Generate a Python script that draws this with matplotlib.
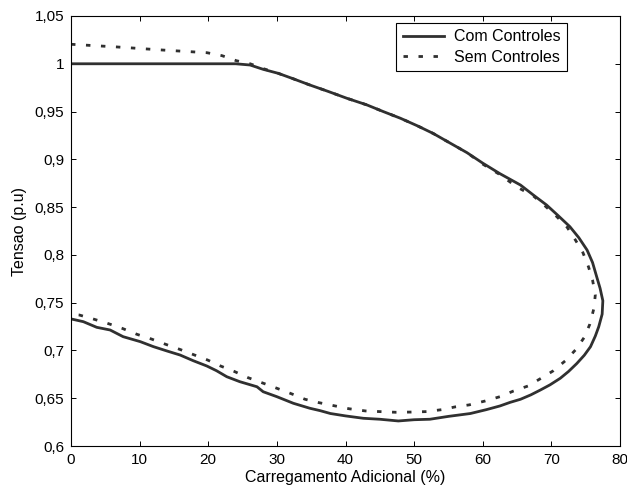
import matplotlib
matplotlib.use('Agg')
import matplotlib.pyplot as plt

plt.rcParams['font.family'] = ['Liberation Sans', 'DejaVu Sans']

# curva PV com controles (ramo superior -> nariz -> ramo inferior)
com_x = [0, 24, 26.1, 28, 30.2, 32.2, 34.8, 37.5, 40.2, 43.1, 45.5, 48, 50.5, 52.8,
         55, 57.7, 60, 62.5, 65.5, 67.4, 69.3, 71, 72.7, 74, 75.2, 76, 76.6, 77.1, 77.5,
         77.4, 76.9, 76.4, 75.7, 74.8, 73.7, 72.5, 71.3, 69.8, 68.4, 67, 65.5, 64, 62.5,
         60.5, 58.2, 55, 52.3, 50, 47.7, 45, 42.6, 40, 37.8, 36.3, 34.8, 32.4, 30, 28,
         27.1, 24.6, 22.7, 21.2, 19.8, 17.8, 15.9, 14, 12, 10.1, 7.6, 5.7, 3.75, 1.8, 0]
com_y = [1.0, 1.0, 0.9987, 0.9942, 0.990, 0.9848, 0.9778, 0.971, 0.9639, 0.957, 0.950,
         0.943, 0.935, 0.927, 0.918, 0.907, 0.896, 0.885, 0.8731, 0.8625, 0.8522, 0.841,
         0.8295, 0.818, 0.8051, 0.792, 0.7772, 0.765, 0.752,
         0.738, 0.7248, 0.715, 0.7039, 0.695, 0.6863, 0.678, 0.6709, 0.664, 0.6586,
         0.6535, 0.6489, 0.6457, 0.6419, 0.638, 0.634, 0.631, 0.628, 0.6275, 0.6262,
         0.628, 0.629, 0.6315, 0.634, 0.637, 0.6395, 0.6447, 0.6516, 0.6568, 0.662,
         0.6673, 0.6725, 0.6788, 0.6837, 0.6893, 0.6952, 0.6994, 0.704, 0.7092, 0.7144,
         0.7214, 0.7242, 0.7301, 0.733]

# curva PV sem controles
sem_x = [0, 6.7, 13.3, 19.8, 22, 24.1, 26.1, 28.2, 30.2, 32.2, 34.8, 37.5, 40.2, 43.1,
         45.5, 48, 50.5, 52.8, 55, 57.7, 60, 62.5, 65, 67.4, 69.1, 70.7, 72.3, 73.5, 74.6,
         75.4, 76.0, 76.4, 76.2, 75.6, 74.8, 73.6, 72, 70.3, 68.5, 66.6, 64.5, 62.5, 60.3,
         58, 56.1, 54, 51.8, 49.5, 47.3, 45, 42.9, 40.5, 38.3, 36.1, 34.1, 32, 30, 27.9,
         25.8, 23.8, 21.8, 19.9, 18, 15.9, 13.8, 11.7, 9.6, 7.5, 5.3, 3.2, 1.2, 0]
sem_y = [1.0204, 1.0176, 1.0144, 1.0116, 1.0085, 1.0032, 1.0, 0.9945, 0.990, 0.9848,
         0.9778, 0.971, 0.9639, 0.957, 0.950, 0.943, 0.935, 0.927, 0.918, 0.907, 0.895,
         0.884, 0.871, 0.8616, 0.8511, 0.8407, 0.8289, 0.8156, 0.8023, 0.7877, 0.7737,
         0.758, 0.7441, 0.7274, 0.7138, 0.7012, 0.689, 0.6788, 0.6709, 0.6628, 0.6576,
         0.6516, 0.647, 0.643, 0.6411, 0.638, 0.636, 0.6355, 0.6353, 0.636, 0.6367,
         0.639, 0.6422, 0.6454, 0.6489, 0.655, 0.6604, 0.666, 0.6715, 0.678, 0.6837,
         0.690, 0.6952, 0.701, 0.7064, 0.712, 0.7169, 0.723, 0.7284, 0.733, 0.7371, 0.738]

xticks = [0, 10, 20, 30, 40, 50, 60, 70, 80]
yticks = [0.6, 0.65, 0.7, 0.75, 0.8, 0.85, 0.9, 0.95, 1.0, 1.05]
ytick_labels = ['0,6', '0,65', '0,7', '0,75', '0,8', '0,85', '0,9', '0,95', '1', '1,05']

cor = '#303030'

fig = plt.figure(figsize=(6.27, 4.94), dpi=100)
ax = fig.add_axes([71 / 627, 48 / 494, 549 / 627, 430 / 494])

ax.plot(com_x, com_y, '-', color=cor, lw=2, label='Com Controles')
ax.plot(sem_x, sem_y, color=cor, lw=2, dashes=(1.6, 3.8), label='Sem Controles')

ax.set_xlim(0, 80)
ax.set_ylim(0.6, 1.05)
ax.set_xticks(xticks)
ax.set_xticklabels([str(t) for t in xticks])
ax.set_yticks(yticks)
ax.set_yticklabels(ytick_labels)
ax.tick_params(direction='in', top=True, right=True, length=3.5, width=0.7,
               labelsize=11, pad=5)
for s in ax.spines.values():
    s.set_linewidth(0.8)

ax.set_xlabel('Carregamento Adicional (%)', fontsize=11.5, labelpad=2)
ax.set_ylabel('Tensao (p.u)', fontsize=11.5, labelpad=5)

leg = ax.legend(loc='upper right', bbox_to_anchor=(0.903, 0.984), borderaxespad=0,
                fontsize=11.5, handlelength=2.6, handletextpad=0.6, labelspacing=0.35,
                borderpad=0.4, fancybox=False, framealpha=1, edgecolor='black')
leg.get_frame().set_linewidth(0.8)

plt.savefig('out.png', dpi=100)
